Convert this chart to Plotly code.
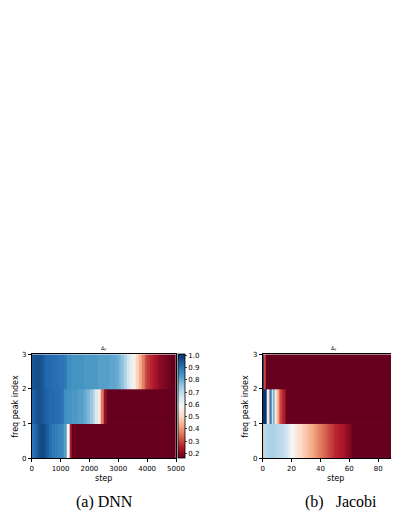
import plotly.graph_objects as go

PAGE_W, PAGE_H = 399, 516
OFF = 8                      # default body margin of the html page
W, H = PAGE_W - OFF, PAGE_H - OFF

# ColorBrewer / matplotlib RdBu (low = dark red, high = dark blue)
RDBU = ['rgb(103,0,31)', 'rgb(178,24,43)', 'rgb(214,96,77)', 'rgb(244,165,130)',
        'rgb(253,219,199)', 'rgb(247,247,247)', 'rgb(209,229,240)', 'rgb(146,197,222)',
        'rgb(67,147,195)', 'rgb(33,102,172)', 'rgb(5,48,97)']
Z_MIN, Z_MAX = 0.16, 1.01
CB_TICKS = [0.2, 0.3, 0.4, 0.5, 0.6, 0.7, 0.8, 0.9, 1.0]

# ---------------- (a) DNN : column edges in steps, values per freq-peak row ----------------
DNN_X_TICKS = [0, 1000, 2000, 3000, 4000, 5000]
DNN_ROW0_EDGES = list(range(0, 1401, 100)) + [5000]
DNN_ROW0 = [0.90, 0.93, 0.96, 0.97, 0.96, 0.94, 0.91, 0.89, 0.88, 0.87, 0.86, 0.82,
            0.58, 0.24, 0.16]
DNN_ROW1_EDGES = list(range(0, 2601, 100)) + [5000]
DNN_ROW1 = [0.93, 0.95, 0.96, 0.95, 0.94, 0.93, 0.92, 0.92, 0.91, 0.91, 0.90,
            0.85, 0.84, 0.84, 0.83, 0.83, 0.82, 0.82,
            0.80, 0.78, 0.75, 0.71, 0.65, 0.55, 0.36, 0.21,
            0.16]
DNN_ROW2_EDGES = list(range(0, 4801, 100)) + [5000]
DNN_ROW2 = [0.95, 0.96, 0.96, 0.95, 0.93, 0.92, 0.92, 0.91, 0.91, 0.90, 0.90, 0.89,
            0.85, 0.85, 0.84, 0.84, 0.84, 0.84, 0.83, 0.83, 0.83, 0.83, 0.83, 0.82,
            0.82, 0.82, 0.82, 0.81, 0.81, 0.80,
            0.78, 0.76, 0.72, 0.67, 0.62, 0.56, 0.49, 0.43, 0.37, 0.31, 0.28, 0.26,
            0.24, 0.22, 0.20, 0.19, 0.18, 0.17,
            0.16]

# ---------------- (b) Jacobi ----------------
JAC_X_TICKS = [0, 20, 40, 60, 80]
JAC_ROW0_EDGES = list(range(0, 63)) + [100]
JAC_ROW0 = [0.45,
            0.70, 0.71, 0.71, 0.72, 0.72, 0.72, 0.72, 0.71, 0.71, 0.71, 0.70, 0.70, 0.70, 0.69,
            0.68, 0.67, 0.65, 0.63, 0.61, 0.59, 0.57, 0.55,
            0.53, 0.52, 0.51, 0.50, 0.49, 0.48, 0.47, 0.46, 0.45, 0.44, 0.43, 0.42, 0.41,
            0.40, 0.39, 0.38, 0.37, 0.36, 0.35, 0.34, 0.33, 0.32, 0.31, 0.30, 0.29, 0.28, 0.27,
            0.26, 0.26, 0.25, 0.25, 0.24, 0.24, 0.23, 0.22, 0.21, 0.20, 0.19, 0.18,
            0.16]
JAC_ROW1_EDGES = list(range(0, 17)) + [100]
JAC_ROW1 = [1.0, 1.0, 0.98, 0.60, 0.42, 0.88, 0.62, 0.78, 0.58, 0.50, 0.44, 0.36,
            0.30, 0.27, 0.25, 0.22, 0.16]
JAC_ROW2_EDGES = [0, 1, 2, 100]
JAC_ROW2 = [1.0, 0.30, 0.16]

Y_TICKS = [0, 1, 2, 3]


def px_x(x):
    """page pixel x -> paper fraction"""
    return (x - OFF) / W


def px_y(y):
    """page pixel y -> paper fraction"""
    return (H - (y - OFF)) / H


fig = go.Figure()

for r, (edges, vals) in enumerate([(DNN_ROW0_EDGES, DNN_ROW0),
                                   (DNN_ROW1_EDGES, DNN_ROW1),
                                   (DNN_ROW2_EDGES, DNN_ROW2)]):
    fig.add_trace(go.Heatmap(x=edges, y=[r, r + 1], z=[vals], coloraxis='coloraxis',
                             xaxis='x', yaxis='y', hoverinfo='skip'))

for r, (edges, vals) in enumerate([(JAC_ROW0_EDGES, JAC_ROW0),
                                   (JAC_ROW1_EDGES, JAC_ROW1),
                                   (JAC_ROW2_EDGES, JAC_ROW2)]):
    fig.add_trace(go.Heatmap(x=edges, y=[r, r + 1], z=[vals], coloraxis='coloraxis2',
                             xaxis='x2', yaxis='y2', hoverinfo='skip'))

TOP, BOT = 354.3, 458.3
L1, R1 = 31.7, 176.0
L2 = 262.7
PX_PER_UNIT2 = (R1 - L1) / 100.0

tick_font = dict(family='DejaVu Sans', size=7, color='black')
axis_common = dict(showgrid=False, zeroline=False, showline=True, linecolor='black',
                   linewidth=0.8, ticks='outside', ticklen=3, tickwidth=0.8,
                   tickcolor='black', tickfont=tick_font, automargin=False)

fig.update_layout(
    width=W, height=H,
    margin=dict(l=0, r=0, t=0, b=0),
    paper_bgcolor='white', plot_bgcolor='white',
    showlegend=False,
    xaxis=dict(domain=[px_x(L1), px_x(R1)], range=[0, 5000], tickvals=DNN_X_TICKS,
               mirror=True, anchor='y', **axis_common),
    yaxis=dict(domain=[px_y(BOT), px_y(TOP)], range=[0, 3], tickvals=Y_TICKS,
               mirror=True, anchor='x', **axis_common),
    xaxis2=dict(domain=[px_x(L2), 1.0], range=[0, (PAGE_W - L2) / PX_PER_UNIT2],
                tickvals=JAC_X_TICKS, mirror=True, anchor='y2', **axis_common),
    yaxis2=dict(domain=[px_y(BOT), px_y(TOP)], range=[0, 3], tickvals=Y_TICKS,
                mirror=False, anchor='x2', **axis_common),
    coloraxis=dict(colorscale=RDBU, cmin=Z_MIN, cmax=Z_MAX,
                   colorbar=dict(x=px_x(177.5), xanchor='left',
                                 y=(px_y(TOP) + px_y(BOT)) / 2, yanchor='middle',
                                 len=BOT - TOP, lenmode='pixels', thickness=7,
                                 outlinewidth=0.8, outlinecolor='black',
                                 tickvals=CB_TICKS, tickformat='.1f', ticks='outside',
                                 ticklen=2, tickwidth=0.8, tickfont=tick_font,
                                 xpad=0, ypad=0)),
    coloraxis2=dict(colorscale=RDBU, cmin=Z_MIN, cmax=Z_MAX, showscale=False),
)

label_font = dict(family='DejaVu Sans', size=8, color='black')
cap_font = dict(family='Liberation Serif', size=16, color='black')
title_font = dict(family='DejaVu Sans', size=5, color='black')

ann = [
    dict(text='Δ<sub>F</sub>', x=px_x((L1 + R1) / 2), y=px_y(348.5), font=title_font),
    dict(text='Δ<sub>F</sub>', x=px_x(333.0), y=px_y(348.5), font=title_font),
    dict(text='freq peak index', x=px_x(15.5), y=px_y((TOP + BOT) / 2), textangle=-90,
         font=label_font),
    dict(text='freq peak index', x=px_x(245.5), y=px_y((TOP + BOT) / 2), textangle=-90,
         font=label_font),
    dict(text='step', x=px_x((L1 + R1) / 2), y=px_y(478.5), font=label_font),
    dict(text='step', x=px_x(335.0), y=px_y(478.5), font=label_font),
    dict(text='(a) DNN', x=px_x(104.0), y=px_y(502.0), font=cap_font),
    dict(text='(b)\u00a0\u00a0 Jacobi', x=px_x(341.0), y=px_y(502.0), font=cap_font),
]
for a in ann:
    a.update(xref='paper', yref='paper', showarrow=False, xanchor='center',
             yanchor='middle')
fig.update_layout(annotations=ann)

fig.write_html('out.html')
